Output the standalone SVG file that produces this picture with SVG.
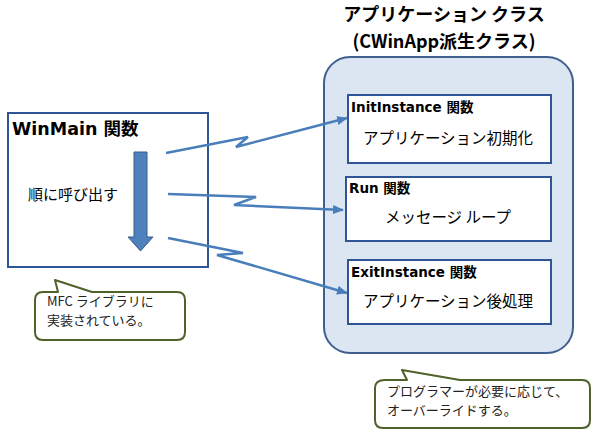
<svg xmlns="http://www.w3.org/2000/svg" width="600" height="437" viewBox="0 0 600 437">
<style>
text{font-family:"Noto Sans CJK JP","Noto Sans",sans-serif;fill:#000}
.b{font-weight:bold;font-family:"DejaVu Sans","Noto Sans CJK JP",sans-serif}
.h{font-weight:bold}
.box{fill:#fff;stroke:#2F5597;stroke-width:2}
.conn{fill:none;stroke:#4A7EBB;stroke-width:2.5;marker-end:url(#ah)}
.call{fill:#fff;stroke:#4F6228;stroke-width:2;stroke-linejoin:round}
.ct{font-size:13px;fill:#222}
</style>
<defs>
<marker id="ah" markerWidth="11" markerHeight="9" refX="10" refY="4.5" orient="auto" markerUnits="userSpaceOnUse" viewBox="0 0 11 9">
<path d="M0,0 L11,4.5 L0,9 z" fill="#4A7EBB"/>
</marker>
</defs>
<g id="appclass">
<rect x="324" y="57" width="249" height="296" rx="26" fill="#DCE6F2" stroke="#3F5F8F" stroke-width="2"/>
<text x="444" y="21" text-anchor="middle" class="h" font-size="18">アプリケーション クラス</text>
<text x="444" y="48" text-anchor="middle" class="h" font-size="18">(CWinApp派生クラス)</text>
</g>
<g id="winmain">
<rect x="8" y="113" width="200" height="154" class="box"/>
<text x="12" y="135" class="b" font-size="17.5">WinMain 関数</text>
<path d="M134,152 H147 V237 H153 L140.5,251 L128,237 H134 Z" fill="#4F81BD" stroke="#385D8A" stroke-width="1"/>
<text x="28" y="200" font-size="15">順に呼び出す</text>
</g>
<g id="initinstance">
<rect x="348" y="95" width="203" height="68" class="box"/>
<text x="351" y="112" class="b" font-size="13.5">InitInstance 関数</text>
<text x="448" y="144" text-anchor="middle" font-size="15.5">アプリケーション初期化</text>
</g>
<g id="run">
<rect x="346" y="177" width="205" height="64" class="box"/>
<text x="349" y="193" class="b" font-size="13.5">Run 関数</text>
<text x="448" y="223" text-anchor="middle" font-size="15.5">メッセージ ループ</text>
</g>
<g id="exitinstance">
<rect x="348" y="260" width="203" height="64" class="box"/>
<text x="351" y="277" class="b" font-size="13.5">ExitInstance 関数</text>
<text x="448" y="307" text-anchor="middle" font-size="15.5">アプリケーション後処理</text>
</g>
<g id="connectors">
<polyline class="conn" points="166,153 248,137 236,147 347,118"/>
<polyline class="conn" points="168,194 256,197 234,205 343,210"/>
<polyline class="conn" points="168,238 243,253 217,255 347,293"/>
</g>
<g id="callout1">
<path class="call" d="M45,292 H58 L55,280 L92,292 H177 Q185,292 185,300 V332 Q185,340 177,340 H43 Q35,340 35,332 V300 Q35,292 43,292 Z"/>
<text x="47" y="306" class="ct">MFC ライブラリに</text>
<text x="47" y="325" class="ct">実装されている。</text>
</g>
<g id="callout2">
<path class="call" d="M385,380 H407 L402,370 L460,380 H582 Q590,380 590,388 V420 Q590,428 582,428 H383 Q375,428 375,420 V388 Q375,380 385,380 Z"/>
<text x="387" y="396" class="ct">プログラマーが必要に応じて、</text>
<text x="387" y="415" class="ct">オーバーライドする。</text>
</g>
</svg>
